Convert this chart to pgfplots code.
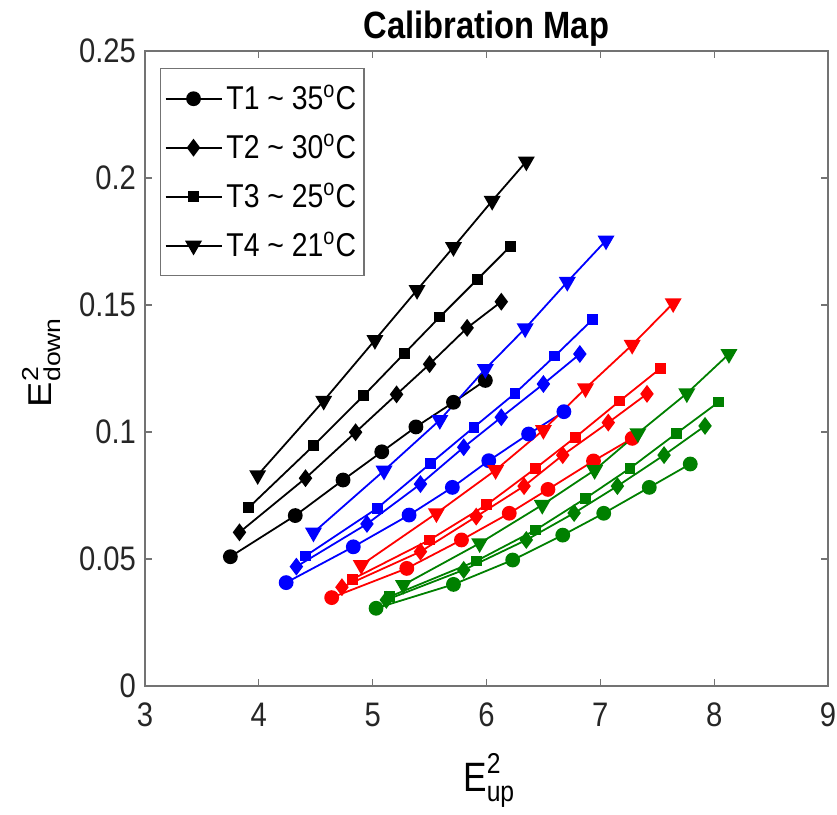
\documentclass[border=0pt]{standalone}
\usepackage{fontspec}
\setmainfont{Liberation Sans}[FakeStretch=0.86]
\newfontfamily\rotfont{Liberation Sans}[FakeStretch=1.15]
\usepackage{amsmath}
\usepackage{pgfplots}
\pgfplotsset{compat=1.18}
\definecolor{mgreen}{rgb}{0,0.5,0}
\definecolor{axgray}{gray}{0.45}
\begin{document}
\begin{tikzpicture}
\begin{axis}[
  scale only axis,
  width=341.5pt, height=317.5pt,
  xmin=3, xmax=9, ymin=0, ymax=0.25,
  xtick={3,4,5,6,7,8,9},
  xticklabels={3,4,5,6,7,8,9},
  ytick={0,0.05,0.1,0.15,0.2,0.25},
  yticklabels={0,0.05,0.1,0.15,0.2,0.25},
  tick align=inside,
  major tick length=3.5pt,
  axis line style={axgray, line width=0.6pt},
  every tick/.style={axgray, line width=0.6pt},
  tick label style={font=\fontsize{17}{20}\selectfont, text=black!85},
  xticklabel style={yshift=-5pt},
  yticklabel style={xshift=-1pt},
  title={Calibration Map},
  title style={font=\bfseries\fontsize{19}{22}\selectfont, yshift=-7pt},
  xlabel={$\text{E}^{\text{2}}_{\text{up}}$},
  ylabel={\rotfont$\text{E}^{\text{2}}_{\text{down}}$},
  xlabel style={font=\fontsize{20.5}{24}\selectfont, at={(axis description cs:0.504,-0.149)}, anchor=center},
  ylabel style={font=\rotfont\fontsize{16.5}{20}\selectfont, at={(axis description cs:-0.152,0.51)}, anchor=center, rotate=0},
  legend style={at={(axis description cs:0.022,0.973)}, anchor=north west,
    draw=axgray, line width=0.6pt, font=\fontsize{16.5}{19}\selectfont,
    inner xsep=2pt, inner ysep=6pt, row sep=6.5pt},
  legend cell align=left,
  legend image code/.code={\draw[mark repeat=2,mark phase=2,#1] plot coordinates {(0pt,0pt)(14pt,0pt)(28pt,0pt)};},
  every axis plot/.append style={line width=0.9pt},
  circ/.style={mark=*, mark size=3.25pt},
  diam/.style={mark=diamond*, mark size=3.75pt},
  squ/.style={mark=square*, mark size=2.25pt},
  tri/.style={mark=triangle*, mark size=4pt, mark options={rotate=180}},
]
% ---------- black ----------
\addplot[black, circ] coordinates {(3.75,0.0509)(4.32,0.0671)(4.74,0.0811)(5.08,0.0922)(5.38,0.1020)(5.71,0.1117)(5.99,0.1203)};
\addlegendentry{T1 \textasciitilde{} 35\textsuperscript{o}C}
\addplot[black, diam] coordinates {(3.83,0.0605)(4.41,0.0818)(4.85,0.0999)(5.21,0.1148)(5.50,0.1267)(5.83,0.1410)(6.13,0.1513)};
\addlegendentry{T2 \textasciitilde{} 30\textsuperscript{o}C}
\addplot[black, squ] coordinates {(3.91,0.0702)(4.48,0.0946)(4.92,0.1143)(5.28,0.1310)(5.59,0.1453)(5.92,0.1601)(6.21,0.1731)};
\addlegendentry{T3 \textasciitilde{} 25\textsuperscript{o}C}
\addplot[black, tri] coordinates {(3.99,0.0830)(4.57,0.1123)(5.02,0.1362)(5.39,0.1559)(5.71,0.1728)(6.05,0.1910)(6.35,0.2065)};
\addlegendentry{T4 \textasciitilde{} 21\textsuperscript{o}C}
% ---------- blue ----------
\addplot[blue, circ, forget plot] coordinates {(4.24,0.0407)(4.83,0.0548)(5.32,0.0673)(5.70,0.0782)(6.02,0.0887)(6.37,0.0992)(6.68,0.1080)};
\addplot[blue, diam, forget plot] coordinates {(4.33,0.0470)(4.95,0.0638)(5.42,0.0795)(5.80,0.0940)(6.13,0.1058)(6.50,0.1189)(6.82,0.1307)};
\addplot[blue, squ, forget plot] coordinates {(4.41,0.0512)(5.04,0.0700)(5.51,0.0877)(5.89,0.1019)(6.25,0.1152)(6.60,0.1299)(6.93,0.1442)};
\addplot[blue, tri, forget plot] coordinates {(4.48,0.0604)(5.10,0.0848)(5.59,0.1047)(5.99,0.1248)(6.34,0.1408)(6.71,0.1591)(7.05,0.1754)};
% ---------- red ----------
\addplot[red, circ, forget plot] coordinates {(4.64,0.0348)(5.30,0.0463)(5.78,0.0575)(6.20,0.0680)(6.54,0.0774)(6.94,0.0886)(7.28,0.0975)};
\addplot[red, diam, forget plot] coordinates {(4.73,0.0389)(5.42,0.0529)(5.91,0.0667)(6.33,0.0787)(6.67,0.0909)(7.07,0.1037)(7.41,0.1150)};
\addplot[red, squ, forget plot] coordinates {(4.82,0.0420)(5.50,0.0575)(6.00,0.0713)(6.43,0.0857)(6.78,0.0979)(7.17,0.1122)(7.53,0.1251)};
\addplot[red, tri, forget plot] coordinates {(4.90,0.0476)(5.56,0.0680)(6.08,0.0850)(6.50,0.1008)(6.87,0.1172)(7.28,0.1343)(7.64,0.1507)};
% ---------- green ----------
\addplot[mgreen, circ, forget plot] coordinates {(5.03,0.0306)(5.71,0.0400)(6.23,0.0496)(6.67,0.0594)(7.03,0.0680)(7.43,0.0782)(7.79,0.0874)};
\addplot[mgreen, diam, forget plot] coordinates {(5.12,0.0339)(5.80,0.0457)(6.35,0.0575)(6.77,0.0681)(7.15,0.0787)(7.56,0.0909)(7.92,0.1024)};
\addplot[mgreen, squ, forget plot] coordinates {(5.15,0.0352)(5.91,0.0492)(6.43,0.0614)(6.87,0.0739)(7.26,0.0857)(7.67,0.0995)(8.04,0.1118)};
\addplot[mgreen, tri, forget plot] coordinates {(5.27,0.0398)(5.94,0.0562)(6.49,0.0713)(6.95,0.0850)(7.33,0.0995)(7.76,0.1152)(8.13,0.1307)};
\end{axis}
\pgfresetboundingbox
\path (-72.5pt,-64.5pt) rectangle (346pt,343pt);
\end{tikzpicture}
\end{document}
